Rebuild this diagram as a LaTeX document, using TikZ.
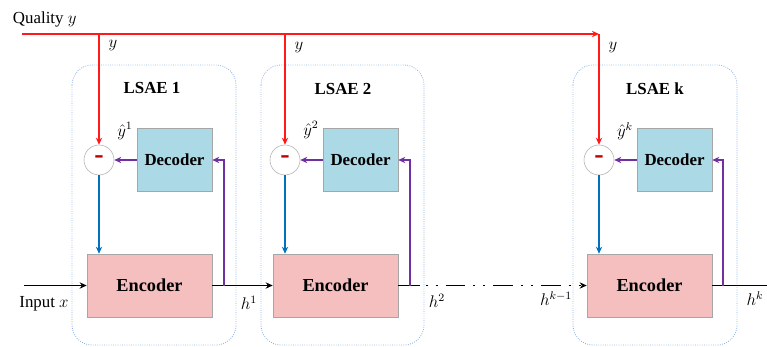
\documentclass[tikz,border=0pt]{standalone}
\usepackage{fontspec}
\setmainfont{Liberation Serif}
\usetikzlibrary{arrows.meta}
\definecolor{QualClr}{rgb}{1,0.1,0.1}
\definecolor{FeedClr}{rgb}{0.44,0.19,0.63}
\definecolor{ErrClr}{rgb}{0,0.44,0.75}
\definecolor{DecClr}{rgb}{0.67,0.85,0.9}
\definecolor{EncClr}{rgb}{0.96,0.75,0.75}
\definecolor{BoxClr}{rgb}{0.56,0.7,0.89}
\definecolor{MinusClr}{rgb}{0.75,0,0}

\begin{document}
\begin{tikzpicture}[x=0.025cm,y=-0.025cm,
  tip/.style={-{Stealth[length=5pt,width=4.5pt]}},
  dec/.style={draw=gray!70,fill=DecClr,minimum width=1.875cm,minimum height=1.575cm,
    font=\fontsize{12}{12}\selectfont\bfseries},
  enc/.style={draw=gray!70,fill=EncClr,minimum width=3.125cm,minimum height=1.575cm,
    font=\fontsize{13}{13}\selectfont\bfseries},
  diff/.style={circle,draw=gray!60,fill=white,minimum size=0.75cm,inner sep=0pt,
    text=MinusClr,font=\fontsize{20}{20}\selectfont\bfseries},
  lsae/.style={draw=BoxClr,densely dotted,line width=0.6pt,rounded corners=0.5cm},
  qual/.style={QualClr,line width=1.4pt},
  feed/.style={FeedClr,line width=1.3pt},
  err/.style={ErrClr,line width=1.3pt},
  sig/.style={black,line width=1.4pt},
  lbl/.style={font=\fontsize{12}{12}\selectfont}]

\useasboundingbox (0,0) rectangle (767,347);

% dotted frames of the three LSAE
\draw[lsae] (72,65) rectangle (236,345);
\draw[lsae] (261,65) rectangle (424,345);
\draw[lsae] (573,65) rectangle (737,345);

\node[lbl,font=\fontsize{12}{12}\selectfont\bfseries] (t1) at (152,88) {LSAE 1};
\node[lbl,font=\fontsize{12}{12}\selectfont\bfseries] (t2) at (343,89) {LSAE 2};
\node[lbl,font=\fontsize{12}{12}\selectfont\bfseries] (t3) at (655,89) {LSAE k};

% blocks
\node[dec] (d1) at (174.5,160) {Decoder};
\node[dec] (d2) at (360.5,160) {Decoder};
\node[dec] (d3) at (674.5,160) {Decoder};

\node[enc] (e1) at (149.5,285.5) {Encoder};
\node[enc] (e2) at (335.5,285.5) {Encoder};
\node[enc] (e3) at (649.5,285.5) {Encoder};

\node[diff] (m1) at (99,160) {-};
\node[diff] (m2) at (285,160) {-};
\node[diff] (m3) at (599,160) {-};

% quality line
\node[lbl,anchor=west] (q) at (8,19) {Quality $y$};
\coordinate (q0) at (22,34);
\coordinate (q1) at (99,34);
\coordinate (q2) at (285,34);
\coordinate (q3) at (599,34);
\draw[qual,tip] (q0) -- (q3);
\draw[qual,tip] (q3) -- (m3.north);
\draw[qual,tip] (q1) -- (m1.north);
\draw[qual,tip] (q2) -- (m2.north);
\node[lbl] (y1) at (113,46) {$y$};
\node[lbl] (y2) at (299,48) {$y$};
\node[lbl] (y3) at (613,48) {$y$};

% estimates
\node[lbl,inner sep=0pt] (yh1) at (125,131) {$\hat{y}^1$};
\node[lbl,inner sep=0pt] (yh2) at (311,130) {$\hat{y}^2$};
\node[lbl,inner sep=0pt] (yh3) at (625,131) {$\hat{y}^k$};
\draw[feed,tip] (d1.west) -- (m1.east);
\draw[feed,tip] (d2.west) -- (m2.east);
\draw[feed,tip] (d3.west) -- (m3.east);

% errors to encoders
\draw[err,tip] (m1.south) -- (m1.south |- e1.north);
\draw[err,tip] (m2.south) -- (m2.south |- e2.north);
\draw[err,tip] (m3.south) -- (m3.south |- e3.north);

% main signal path
\coordinate (in) at (24,285.5);
\coordinate (f1) at (224,285.5);
\coordinate (f2) at (410,285.5);
\coordinate (f3) at (723,285.5);
\coordinate (gap) at (420,285.5);
\coordinate (out) at (767,285.5);
\draw[sig,tip] (in) -- (e1.west);
\draw[sig,tip] (e1.east) -- (e2.west);
\draw[sig] (e2.east) -- (gap);
\draw[sig,tip,dash pattern=on 1.4pt off 5.7pt on 1.4pt off 5.7pt on 14pt off 5.7pt,
  dash phase=-4pt] (gap) -- (e3.west);
\draw[sig] (e3.east) -- (out);

% feedback to decoders
\draw[feed,tip] (f1) |- (d1.east);
\draw[feed,tip] (f2) |- (d2.east);
\draw[feed,tip] (f3) |- (d3.east);

\node[lbl] (x) at (44,304) {Input $x$};
\node[lbl] (h1) at (249,303) {$h^1$};
\node[lbl] (h2) at (437,301) {$h^2$};
\node[lbl] (h3) at (556,299) {$h^{k-1}$};
\node[lbl] (h4) at (755,299) {$h^k$};

\end{tikzpicture}
\end{document}
